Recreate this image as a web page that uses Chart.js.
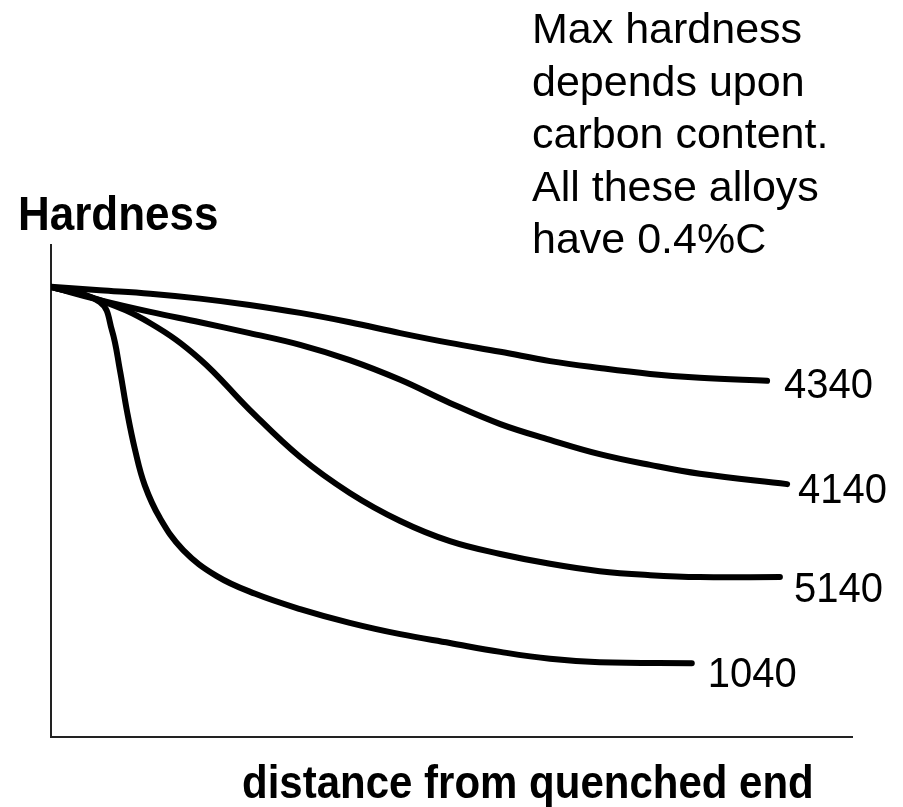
<!DOCTYPE html>
<html>
<head>
<meta charset="utf-8">
<script src="https://cdn.jsdelivr.net/npm/chart.js@4/dist/chart.umd.min.js"></script>
<style>
  html, body { margin: 0; padding: 0; background: #ffffff; }
  #wrap { width: 903px; height: 807px; }
</style>
</head>
<body>
<div id="wrap"><canvas id="c" width="903" height="807"></canvas></div>
<script>
// ---- data ----
const seriesNames = ['4340', '4140', '5140', '1040'];

const x4340 = [0, 6.1, 12.4, 18.6, 24.8, 31.1, 37.3, 43.6, 49.8, 56.1, 62.3, 68.5, 74.8, 81.0, 89.4];
const y4340 = [91.5, 90.8, 90.1, 89.1, 87.8, 86.2, 84.3, 82.1, 80.1, 78.3, 76.4, 75.0, 73.8, 73.0, 72.4];

const x4140 = [0, 6.1, 12.4, 18.6, 24.8, 31.1, 37.3, 43.6, 49.8, 56.1, 62.3, 68.5, 74.8, 81.0, 91.9];
const y4140 = [91.5, 88.8, 86.4, 84.3, 82.1, 79.7, 76.6, 72.6, 67.9, 63.6, 60.4, 57.5, 55.3, 53.5, 51.4];

const x5140 = [0, 6.1, 12.4, 18.6, 24.8, 31.1, 37.3, 43.6, 49.8, 56.1, 62.3, 68.5, 74.8, 81.0, 91.0];
const y5140 = [91.5, 88.8, 84.1, 76.8, 66.5, 56.9, 49.6, 43.9, 39.8, 37.2, 35.2, 33.7, 32.9, 32.5, 32.5];

const x1040 = [0, 6.1, 7.6, 8.6, 9.5, 10.5, 11.7, 13.6, 16.5, 20.7, 25.5, 31.1, 37.3, 43.6, 49.8, 56.1, 62.3, 68.5, 80.0];
const y1040 = [91.5, 88.4, 82.7, 74.6, 66.1, 58.3, 51.2, 44.5, 38.0, 32.7, 29.1, 26.0, 23.2, 20.9, 19.1, 17.3, 15.9, 15.2, 15.0];

const yAxisTitle = 'Hardness';
const xAxisTitle = 'distance from quenched end';
const noteLines = ['Max hardness', 'depends upon', 'carbon content.', 'All these alloys', 'have 0.4%C'];

// ---- build ----
const xs = [x4340, x4140, x5140, x1040];
const ys = [y4340, y4140, y5140, y1040];
const toPoints = (xa, ya) => xa.map((v, i) => ({ x: v, y: ya[i] }));

const FONT = '"Liberation Sans", Arial, Helvetica, sans-serif';

const labelOffsets = [ {dx: 17, dy: 17}, {dx: 11, dy: 19}, {dx: 14, dy: 25}, {dx: 16, dy: 24} ];

const textPlugin = {
  id: 'texts',
  afterDraw(chart) {
    const ctx = chart.ctx;
    ctx.save();
    ctx.fillStyle = '#000';
    ctx.textBaseline = 'alphabetic';
    ctx.textAlign = 'left';

    // y axis title above the axis
    ctx.save();
    ctx.font = 'bold 44px ' + FONT;
    ctx.translate(18, 230);
    ctx.scale(1, 1.1);
    ctx.fillText(yAxisTitle, 0, 0);
    ctx.restore();

    // x axis title
    ctx.save();
    ctx.font = 'bold 42px ' + FONT;
    ctx.translate(242, 798);
    ctx.scale(1, 1.1);
    ctx.fillText(xAxisTitle, 0, 0);
    ctx.restore();

    // note
    ctx.font = '43px ' + FONT;
    noteLines.forEach((t, i) => ctx.fillText(t, 532, 43 + i * 52.5));

    // series end labels
    chart.data.datasets.forEach((ds, i) => {
      const meta = chart.getDatasetMeta(i);
      const last = meta.data[meta.data.length - 1];
      const o = labelOffsets[i];
      ctx.save();
      ctx.font = '40px ' + FONT;
      ctx.translate(last.x + o.dx, last.y + o.dy);
      ctx.scale(1, 1.05);
      ctx.fillText(ds.label, 0, 0);
      ctx.restore();
    });
    ctx.restore();
  }
};

new Chart(document.getElementById('c'), {
  type: 'line',
  data: {
    datasets: seriesNames.map((name, i) => ({
      label: name,
      data: toPoints(xs[i], ys[i]),
      borderColor: '#000',
      borderWidth: 6,
      pointRadius: 0,
      fill: false,
      tension: 0.4,
      borderCapStyle: 'round',
      borderJoinStyle: 'round'
    }))
  },
  options: {
    responsive: false,
    animation: false,
    layout: { padding: { left: 51, top: 245, right: 51, bottom: 70 } },
    plugins: { legend: { display: false }, tooltip: { enabled: false }, title: { display: false } },
    scales: {
      x: {
        type: 'linear', min: 0, max: 100,
        grid: { display: false, drawTicks: false },
        ticks: { display: false },
        border: { display: true, color: '#222', width: 2 }
      },
      y: {
        type: 'linear', min: 0, max: 100,
        grid: { display: false, drawTicks: false },
        ticks: { display: false },
        border: { display: true, color: '#222', width: 2 }
      }
    }
  },
  plugins: [textPlugin]
});
</script>
</body>
</html>
